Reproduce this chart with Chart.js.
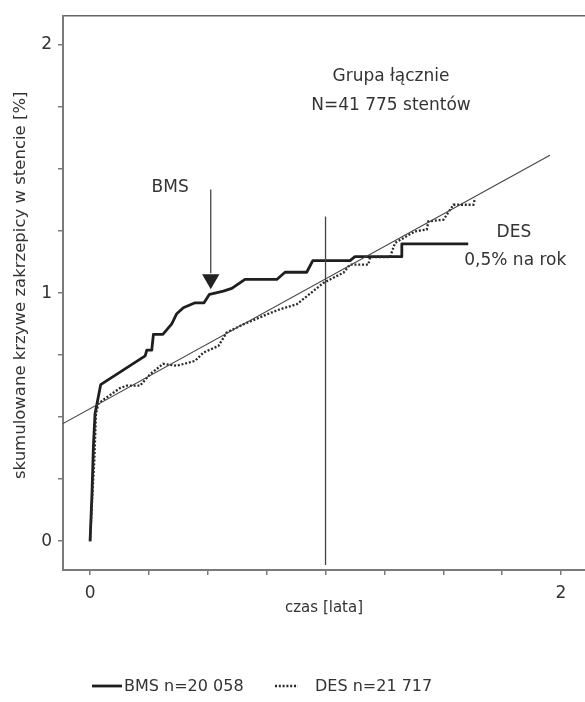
<!DOCTYPE html>
<html>
<head>
<meta charset="utf-8">
<script src="https://cdn.jsdelivr.net/npm/chart.js@4.4.1/dist/chart.umd.min.js"></script>
<style>
  html, body { margin: 0; padding: 0; background: #fff; overflow: hidden; }
  #wrap { position: relative; width: 585px; height: 702px; }
  #c { position: absolute; left: 0; top: 0; }
  .leg { position: absolute; font-family: "DejaVu Sans", sans-serif; font-size: 16px; color: #333; white-space: nowrap; line-height: 20px; }
  .legsvg { position: absolute; }
</style>
</head>
<body>
<div id="wrap">
  <canvas id="c" width="585" height="702"></canvas>
  <svg class="legsvg" style="left:90px; top:681px" width="34" height="10"><line x1="2" y1="5" x2="32" y2="5" stroke="#1e1e1e" stroke-width="2.8"/></svg>
  <div class="leg" style="left:124px; top:676px">BMS n=20 058</div>
  <svg class="legsvg" style="left:273px; top:681px" width="28" height="10"><line x1="2" y1="5" x2="25" y2="5" stroke="#2a2a2a" stroke-width="2.4" stroke-dasharray="2 1.8"/></svg>
  <div class="leg" style="left:315px; top:676px">DES n=21 717</div>
</div>
<script>
// ---- data ----
const bmsX = [0, 0.008, 0.014, 0.021, 0.045, 0.234, 0.241, 0.262, 0.269, 0.309, 0.347, 0.368, 0.396, 0.446, 0.484, 0.507, 0.535, 0.566, 0.602, 0.658, 0.793, 0.828, 0.920, 0.946, 1.104, 1.125, 1.324, 1.324, 1.606];
const bmsY = [0, 0.19, 0.38, 0.514, 0.631, 0.747, 0.770, 0.770, 0.834, 0.834, 0.876, 0.917, 0.941, 0.961, 0.961, 0.995, 1.001, 1.008, 1.019, 1.055, 1.055, 1.084, 1.084, 1.131, 1.131, 1.147, 1.147, 1.198, 1.198];

const desX = [0, 0.010, 0.018, 0.025, 0.035, 0.050, 0.127, 0.156, 0.212, 0.255, 0.310, 0.368, 0.446, 0.481, 0.545, 0.580, 0.651, 0.750, 0.807, 0.878, 0.948, 0.991, 1.019, 1.076, 1.104, 1.182, 1.189, 1.274, 1.295, 1.380, 1.430, 1.437, 1.501, 1.543, 1.628, 1.635];
const desY = [0, 0.19, 0.325, 0.514, 0.553, 0.566, 0.617, 0.627, 0.627, 0.673, 0.715, 0.707, 0.727, 0.760, 0.787, 0.841, 0.874, 0.914, 0.935, 0.955, 1.008, 1.041, 1.055, 1.082, 1.115, 1.115, 1.145, 1.145, 1.202, 1.249, 1.256, 1.289, 1.296, 1.356, 1.356, 1.382];

const trendX = [-0.115, 1.953];
const trendY = [0.474, 1.556];

const refLineX = [1, 1];
const refLineY = [-0.096, 1.309];

const arrowX = [0.5125, 0.5125];
const arrowY = [1.418, 1.08];
const arrowHeadX = [0.5125];
const arrowHeadY = [1.056];

const xTicks = [0, 0.25, 0.5, 0.75, 1, 1.25, 1.5, 1.75, 2];
const yTicks = [0, 0.25, 0.5, 0.75, 1, 1.25, 1.5, 1.75, 2];
const xTickLabels = {0: '0', 2: '2'};
const yTickLabels = {0: '0', 1: '1', 2: '2'};

const noteText = ['Grupa łącznie', 'N=41 775 stentów', 'BMS', 'DES', '0,5% na rok'];
const noteX = [1.278, 1.278, 0.340, 1.800, 1.806];
const noteY = [1.871, 1.755, 1.426, 1.243, 1.133];

const xTitle = 'czas [lata]';
const yTitle = '   skumulowane krzywe zakrzepicy w stencie [%]';

// ---- helpers ----
const pts = (xs, ys) => xs.map((x, i) => ({x: x, y: ys[i]}));

const notesPlugin = {
  id: 'notes',
  afterDatasetsDraw(chart) {
    const {ctx, scales} = chart;
    ctx.save();
    ctx.font = '17px "DejaVu Sans"';
    ctx.fillStyle = '#333';
    ctx.textAlign = 'center';
    ctx.textBaseline = 'middle';
    noteText.forEach((t, i) => {
      ctx.fillText(t, scales.x.getPixelForValue(noteX[i]), scales.y.getPixelForValue(noteY[i]));
    });
    ctx.restore();
  }
};

const axisColor = '#7a7a7a';

new Chart(document.getElementById('c'), {
  type: 'scatter',
  data: {
    datasets: [
      { label: 'trend', data: pts(trendX, trendY), showLine: true, borderColor: '#444', borderWidth: 1.1, pointRadius: 0 },
      { label: 'ref', data: pts(refLineX, refLineY), showLine: true, borderColor: '#444', borderWidth: 1.3, pointRadius: 0 },
      { label: 'arrow', data: pts(arrowX, arrowY), showLine: true, borderColor: '#444', borderWidth: 1.3, pointRadius: 0 },
      { label: 'arrowhead', data: pts(arrowHeadX, arrowHeadY), showLine: false, pointStyle: 'triangle', rotation: 180, pointRadius: 10, pointBackgroundColor: '#222', pointBorderColor: '#222', pointBorderWidth: 0 },
      { label: 'DES n=21 717', data: pts(desX, desY), showLine: true, borderColor: '#2a2a2a', borderWidth: 2.3, borderDash: [2, 1.8], pointRadius: 0 },
      { label: 'BMS n=20 058', data: pts(bmsX, bmsY), showLine: true, borderColor: '#1e1e1e', borderWidth: 2.8, borderJoinStyle: 'round', pointRadius: 0 }
    ]
  },
  options: {
    responsive: false,
    animation: false,
    devicePixelRatio: 1,
    layout: { autoPadding: false, padding: { top: 14, right: 0, bottom: 85, left: 0 } },
    plugins: { legend: { display: false }, tooltip: { enabled: false } },
    scales: {
      x: {
        type: 'linear', position: 'bottom', min: -0.115, max: 2.102,
        border: { display: true, color: axisColor, width: 2 },
        grid: { display: true, drawOnChartArea: false, drawTicks: true, tickLength: 5, color: axisColor, lineWidth: 1.5 },
        ticks: { autoSkip: false, maxRotation: 0, padding: 8, color: '#333', font: { family: 'DejaVu Sans', size: 17 },
                 callback: v => (xTickLabels[v] !== undefined ? xTickLabels[v] : '') },
        title: { display: true, text: xTitle, color: '#333', font: { family: 'DejaVu Sans', size: 15 }, padding: { top: 0, bottom: 0 } },
        afterBuildTicks: s => { s.ticks = xTicks.map(v => ({value: v})); },
        afterFit: s => { s.height = 47; }
      },
      xTop: {
        type: 'linear', position: 'top', min: -0.115, max: 2.102,
        border: { display: true, color: '#666', width: 1.5 },
        grid: { display: false },
        ticks: { display: false },
        afterFit: s => { s.height = 0; }
      },
      y: {
        type: 'linear', position: 'left', min: -0.116, max: 2.116,
        border: { display: true, color: axisColor, width: 2 },
        grid: { display: true, drawOnChartArea: false, drawTicks: true, tickLength: 5, color: axisColor, lineWidth: 1.5 },
        ticks: { autoSkip: false, padding: 6, color: '#333', font: { family: 'DejaVu Sans', size: 17 },
                 callback: v => (yTickLabels[v] !== undefined ? yTickLabels[v] : '') },
        title: { display: true, text: yTitle, color: '#333', font: { family: 'DejaVu Sans', size: 16.5 }, padding: { top: 11, bottom: 0 } },
        afterBuildTicks: s => { s.ticks = yTicks.map(v => ({value: v})); },
        afterFit: s => { s.width = 63; }
      }
    }
  },
  plugins: [notesPlugin]
});
</script>
</body>
</html>
